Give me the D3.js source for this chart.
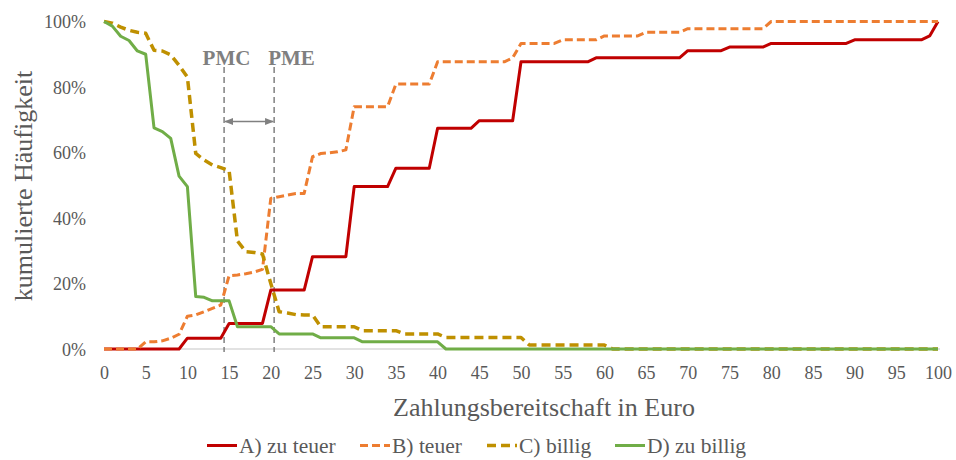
<!DOCTYPE html>
<html>
<head>
<meta charset="utf-8">
<script src="https://cdn.jsdelivr.net/npm/d3@7"></script>
<style>
  html, body { margin: 0; padding: 0; background: #fff; }
  svg { display: block; }
  text { font-family: "Liberation Serif", "Times New Roman", serif; }
</style>
</head>
<body>
<svg id="chart" width="956" height="460"></svg>
<script>
// ---- data (cumulative share, in %) for price 0..100 Euro ----
const prices = [0,1,2,3,4,5,6,7,8,9,10,11,12,13,14,15,16,17,18,19,20,21,22,23,24,25,26,27,28,29,30,31,32,33,34,35,36,37,38,39,40,41,42,43,44,45,46,47,48,49,50,51,52,53,54,55,56,57,58,59,60,61,62,63,64,65,66,67,68,69,70,71,72,73,74,75,76,77,78,79,80,81,82,83,84,85,86,87,88,89,90,91,92,93,94,95,96,97,98,99,100];

const zuTeuer = [0,0,0,0,0,0,0,0,0,0, 3.3,3.3,3.3,3.3,3.3, 7.8,7.8,7.8,7.8,7.8, 18,18,18,18,18, 28.2,28.2,28.2,28.2,28.2, 49.6,49.6,49.6,49.6,49.6, 55.2,55.2,55.2,55.2,55.2, 67.4,67.4,67.4,67.4,67.4, 69.7,69.7,69.7,69.7,69.7, 87.7,87.7,87.7,87.7,87.7,87.7,87.7,87.7,87.7, 88.9,88.9,88.9,88.9,88.9,88.9,88.9,88.9,88.9,88.9,88.9, 91.1,91.1,91.1,91.1,91.1, 92.2,92.2,92.2,92.2,92.2, 93.3,93.3,93.3,93.3,93.3,93.3,93.3,93.3,93.3,93.3, 94.4,94.4,94.4,94.4,94.4,94.4,94.4,94.4,94.4, 95.6, 100];

const teuer = [0,0,0,0,0, 2.2,2.2,2.5,3.3,4.5, 10,10.4,11.4,12.4,13.4, 22.4,22.6,23,23.5,24.3, 46,46.5,47,47.5,47.5, 58.7,59.7,59.9,60.2,60.8, 74,74,74,74,74, 80.9,80.9,80.9,80.9,80.9, 87.7,87.7,87.7,87.7,87.7,87.7,87.7,87.7,87.7, 88.9, 93.3,93.3,93.3,93.3,93.3, 94.4,94.4,94.4,94.4,94.4, 95.6,95.6,95.6,95.6,95.6, 96.7,96.7,96.7,96.7,96.7, 97.8,97.8,97.8,97.8,97.8,97.8,97.8,97.8,97.8,97.8, 100,100,100,100,100,100,100,100,100,100,100,100,100,100,100,100,100,100,100,100,100];

const billig = [100,99.5,98.3,97.3,96.7,96.4,91.2,91,89.8,86.6, 83,59.7,57.7,56.2,55.4, 54.5,33,29.7,29.5,29, 20,11.4,11,10.5,10.4, 10.4,6.8,6.8,6.8,6.8, 6.8,5.6,5.6,5.6,5.6, 5.6,4.6,4.6,4.6,4.6, 4.6,3.5,3.5,3.5,3.5,3.5,3.5,3.5,3.5,3.5, 3.5,1.2,1.2,1.2,1.2,1.2,1.2,1.2,1.2,1.2, 1.2,0,0,0,0,0,0,0,0,0, 0,0,0,0,0,0,0,0,0,0, 0,0,0,0,0,0,0,0,0,0, 0,0,0,0,0,0,0,0,0,0, 0];

const zuBillig = [100,98.6,95.5,94.2,91,90,67.5,66.4,64.3,52.8, 49.6,16,15.8,14.7,14.7, 14.7,6.8,6.8,6.8,6.8, 6.8,4.6,4.6,4.6,4.6, 4.6,3.4,3.4,3.4,3.4, 3.4,2.2,2.2,2.2,2.2, 2.2,2.2,2.2,2.2,2.2, 2.2,0,0,0,0,0,0,0,0,0, 0,0,0,0,0,0,0,0,0,0, 0,0,0,0,0,0,0,0,0,0, 0,0,0,0,0,0,0,0,0,0, 0,0,0,0,0,0,0,0,0,0, 0,0,0,0,0,0,0,0,0,0, 0];

const seriesNames = ["A) zu teuer", "B) teuer", "C) billig", "D) zu billig"];
const xTicks = [0,5,10,15,20,25,30,35,40,45,50,55,60,65,70,75,80,85,90,95,100];
const yTicks = [0,20,40,60,80,100];
const markers = [{label: "PMC", x: 14.4}, {label: "PME", x: 20.4}];

// ---- styles ----
const SERIF = "'Liberation Serif', 'Times New Roman', serif";
const styles = [
  {color: "#C00000", width: 3,   dash: null},
  {color: "#ED7D31", width: 3,   dash: "8,4"},
  {color: "#BF9000", width: 3.5, dash: "9,5"},
  {color: "#70AD47", width: 3,   dash: null}
];
const values = [zuTeuer, teuer, billig, zuBillig];

const svg = d3.select("#chart");
const x = d3.scaleLinear().domain([0, 100]).range([104, 938]);
const y = d3.scaleLinear().domain([0, 100]).range([349, 21.5]);

// x axis baseline
svg.append("line")
  .attr("x1", x(0)).attr("x2", x(100) + 2)
  .attr("y1", y(0)).attr("y2", y(0))
  .attr("stroke", "#D9D9D9").attr("stroke-width", 1.3);

// x tick labels
const xAxis = d3.axisBottom(x).tickValues(xTicks).tickSize(0).tickPadding(0).tickFormat(d => d);
const gx = svg.append("g").attr("transform", `translate(0,${y(0)})`).call(xAxis)
  .attr("font-family", SERIF).attr("font-size", 18);
gx.select(".domain").remove();
gx.selectAll("text")
  .attr("y", 30).attr("dy", null)
  .attr("fill", "#595959")
  .style("font-size", "18px")
  .style("font-family", SERIF);

// y tick labels
const yAxis = d3.axisLeft(y).tickValues(yTicks).tickSize(0).tickPadding(0).tickFormat(d => d + "%");
const gy = svg.append("g").attr("transform", `translate(86,0)`).call(yAxis)
  .attr("font-family", SERIF).attr("font-size", 18);
gy.select(".domain").remove();
gy.selectAll("text")
  .attr("x", 0).attr("dy", "0.34em")
  .attr("fill", "#595959")
  .style("font-size", "18px")
  .style("font-family", SERIF);

// axis titles
svg.append("text")
  .attr("x", 544).attr("y", 416)
  .attr("text-anchor", "middle")
  .attr("fill", "#595959")
  .style("font-size", "26px")
  .style("font-family", SERIF)
  .text("Zahlungsbereitschaft in Euro");

svg.append("text")
  .attr("transform", "translate(32,186) rotate(-90)")
  .attr("text-anchor", "middle")
  .attr("fill", "#595959")
  .style("font-size", "26px")
  .style("font-family", SERIF)
  .text("kumulierte Häufigkeit");

// marker lines (PMC / PME)
const mk = svg.append("g");
markers.forEach(m => {
  mk.append("line")
    .attr("x1", x(m.x)).attr("x2", x(m.x))
    .attr("y1", 67).attr("y2", 352)
    .attr("stroke", "#808080").attr("stroke-width", 1.5)
    .attr("stroke-dasharray", "6,4");
});
mk.append("text").attr("x", x(markers[0].x) - 21.5).attr("y", 65)
  .attr("fill", "#7F7F7F").style("font-size", "21px").style("font-weight", "bold")
  .style("font-family", SERIF)
  .text(markers[0].label);
mk.append("text").attr("x", x(markers[1].x) - 6).attr("y", 65)
  .attr("fill", "#7F7F7F").style("font-size", "21px").style("font-weight", "bold")
  .style("font-family", SERIF)
  .text(markers[1].label);

// double arrow
const defs = svg.append("defs");
defs.append("marker").attr("id", "arrEnd")
  .attr("viewBox", "0 0 10 10").attr("refX", 9).attr("refY", 5)
  .attr("markerWidth", 6).attr("markerHeight", 6).attr("orient", "auto")
  .append("path").attr("d", "M0,1 L10,5 L0,9 z").attr("fill", "#808080");
defs.append("marker").attr("id", "arrStart")
  .attr("viewBox", "0 0 10 10").attr("refX", 1).attr("refY", 5)
  .attr("markerWidth", 6).attr("markerHeight", 6).attr("orient", "auto")
  .append("path").attr("d", "M10,1 L0,5 L10,9 z").attr("fill", "#808080");
mk.append("line")
  .attr("x1", x(markers[0].x) + 1).attr("x2", x(markers[1].x) - 1)
  .attr("y1", 121.5).attr("y2", 121.5)
  .attr("stroke", "#808080").attr("stroke-width", 1.5)
  .attr("marker-start", "url(#arrStart)").attr("marker-end", "url(#arrEnd)");

// series lines
const line = d3.line().x((d, i) => x(prices[i])).y(d => y(d));
values.forEach((vals, k) => {
  svg.append("path")
    .datum(vals)
    .attr("d", line)
    .attr("fill", "none")
    .attr("stroke", styles[k].color)
    .attr("stroke-width", styles[k].width)
    .attr("stroke-linejoin", "round")
    .attr("stroke-dasharray", styles[k].dash);
});

// legend
const legendX = [207, 360, 487, 615];
const lg = svg.append("g");
seriesNames.forEach((name, k) => {
  lg.append("line")
    .attr("x1", legendX[k]).attr("x2", legendX[k] + 30)
    .attr("y1", 445.5).attr("y2", 445.5)
    .attr("stroke", styles[k].color)
    .attr("stroke-width", styles[k].width)
    .attr("stroke-dasharray", styles[k].dash);
  lg.append("text")
    .attr("x", legendX[k] + 32).attr("y", 452.5)
    .attr("fill", "#595959")
    .style("font-size", "21.5px")
    .style("font-family", SERIF)
    .text(name);
});
</script>
</body>
</html>
